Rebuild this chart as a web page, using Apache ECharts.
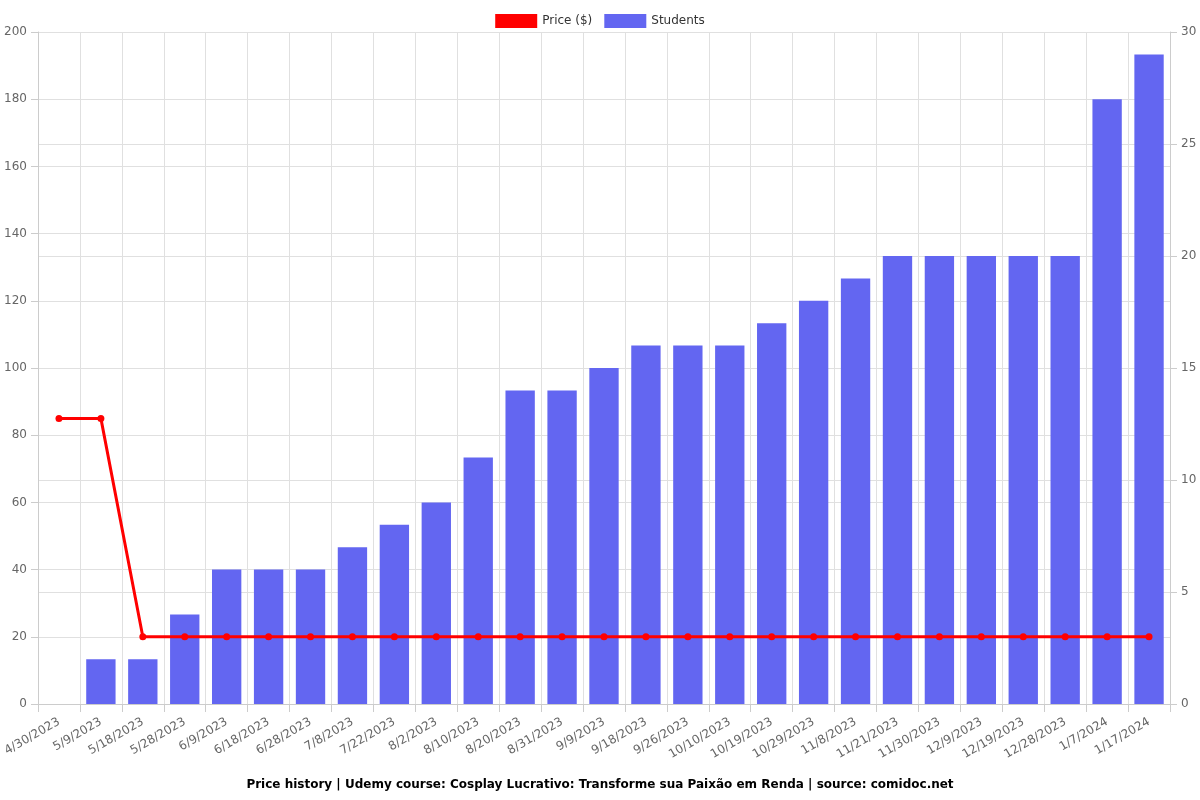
<!DOCTYPE html>
<html><head><meta charset="utf-8">
<script src="https://cdn.jsdelivr.net/npm/echarts@6/dist/echarts.min.js"></script>
<style>html,body{margin:0;padding:0;background:#fff}#c{width:1200px;height:800px}</style>
</head><body><div id="c"></div>
<script>
const categories = ["4/30/2023","5/9/2023","5/18/2023","5/28/2023","6/9/2023","6/18/2023","6/28/2023","7/8/2023","7/22/2023","8/2/2023","8/10/2023","8/20/2023","8/31/2023","9/9/2023","9/18/2023","9/26/2023","10/10/2023","10/19/2023","10/29/2023","11/8/2023","11/21/2023","11/30/2023","12/9/2023","12/19/2023","12/28/2023","1/7/2024","1/17/2024"];
const price = [85,85,20,20,20,20,20,20,20,20,20,20,20,20,20,20,20,20,20,20,20,20,20,20,20,20,20];
const students = [0,2,2,4,6,6,6,7,8,9,11,14,14,15,16,16,16,17,18,19,20,20,20,20,20,27,29];
const titleText = "Price history | Udemy course: Cosplay Lucrativo: Transforme sua Paixão em Renda | source: comidoc.net";

const chart = echarts.init(document.getElementById('c'), null, {renderer:'canvas'});
const font = "'DejaVu Sans', sans-serif";
chart.setOption({
  animation:false,
  textStyle:{fontFamily:font},
  title:{text:titleText,left:'center',bottom:4,textStyle:{fontFamily:font,fontSize:12,fontWeight:'bold',color:'#000'}},
  legend:{top:9,left:'center',itemWidth:42,itemHeight:14,itemGap:12,itemTextGap:6,icon:'rect',textStyle:{fontFamily:font,fontSize:12,color:'#333'},
    data:['Price ($)','Students']},
  grid:{left:38,right:30,top:32,bottom:96,containLabel:false},
  xAxis:{type:'category',data:categories,boundaryGap:true,
    axisLine:{lineStyle:{color:'#ccc'}},
    axisTick:{show:true,length:8,alignWithLabel:false,lineStyle:{color:'#ccc'}},
    splitLine:{show:true,lineStyle:{color:'#e0e0e0'}},
    axisLabel:{rotate:30,interval:0,color:'#666',fontSize:12,fontFamily:font,margin:17}},
  yAxis:[
    {type:'value',min:0,max:200,interval:20,position:'left',
     axisLine:{show:true,lineStyle:{color:'#ccc'}},axisTick:{show:true,length:7,lineStyle:{color:'#ccc'}},
     splitLine:{lineStyle:{color:'#e0e0e0'}},axisLabel:{color:'#666',fontSize:12,fontFamily:font,margin:11}},
    {type:'value',min:0,max:30,interval:5,position:'right',
     axisLine:{show:true,lineStyle:{color:'#ccc'}},axisTick:{show:true,length:7,lineStyle:{color:'#ccc'}},
     splitLine:{lineStyle:{color:'#e0e0e0'}},axisLabel:{color:'#666',fontSize:12,fontFamily:font,margin:11}}
  ],
  series:[
    {name:'Price ($)',type:'line',yAxisIndex:0,data:price,z:5,
     symbol:'circle',symbolSize:7,lineStyle:{color:'#ff0000',width:3},itemStyle:{color:'#ff0000'}},
    {name:'Students',type:'bar',yAxisIndex:1,data:students,barWidth:'70%',
     itemStyle:{color:'#6366f1'}}
  ]
});
</script></body></html>
